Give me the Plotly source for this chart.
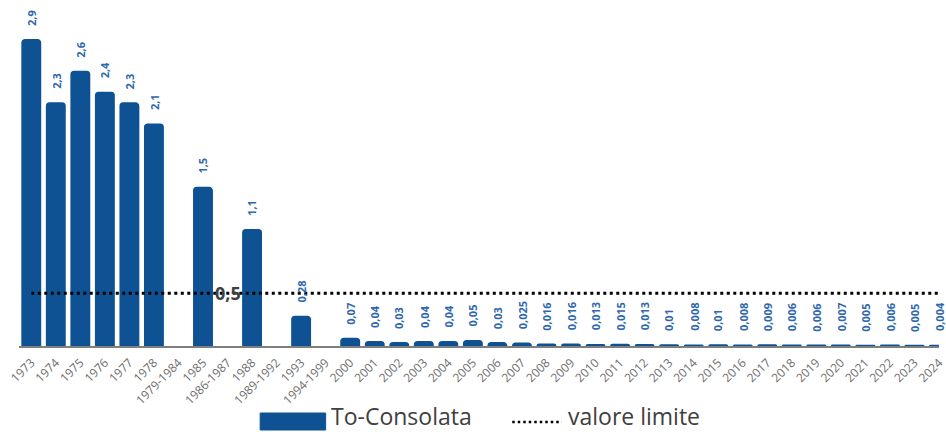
import plotly.graph_objects as go

categories = ["1973", "1974", "1975", "1976", "1977", "1978", "1979-1984", "1985",
              "1986-1987", "1988", "1989-1992", "1993", "1994-1999",
              "2000", "2001", "2002", "2003", "2004", "2005", "2006", "2007", "2008",
              "2009", "2010", "2011", "2012", "2013", "2014", "2015", "2016", "2017",
              "2018", "2019", "2020", "2021", "2022", "2023", "2024"]
values = [2.9, 2.3, 2.6, 2.4, 2.3, 2.1, None, 1.5, None, 1.1, None, 0.28, None,
          0.07, 0.04, 0.03, 0.04, 0.04, 0.05, 0.03, 0.025, 0.016, 0.016, 0.013,
          0.015, 0.013, 0.01, 0.008, 0.01, 0.008, 0.009, 0.006, 0.006, 0.007,
          0.005, 0.006, 0.005, 0.004]
limit_value = 0.5
limit_label_category = "1986-1987"
series_names = ["To-Consolata", "valore limite"]

BAR = "#0E5294"
LABEL = "#2F67AC"


def fmt(v):
    return ("%g" % v).replace(".", ",")


fig = go.Figure()
fig.add_trace(go.Bar(
    x=categories, y=values, name=series_names[0],
    marker=dict(color=BAR, line=dict(color=BAR, width=1.5)),
    showlegend=False, hoverinfo="x+y",
))
fig.add_trace(go.Scatter(
    x=categories, y=[limit_value] * len(categories), name=series_names[1],
    mode="lines", line=dict(color="#000000", width=3, dash="3px,3.5px"),
    showlegend=False,
))

annotations = []
for i, v in enumerate(values):
    if v is None:
        continue
    annotations.append(dict(
        x=i, y=v, xref="x", yref="y", text=fmt(v), showarrow=False,
        textangle=-90, yanchor="bottom", xanchor="center", yshift=12,
        font=dict(family="Open Sans", size=11, color=LABEL, weight="bold"),
    ))
annotations.append(dict(
    x=categories.index(limit_label_category), y=limit_value, xref="x", yref="y",
    text=fmt(limit_value), showarrow=False, yanchor="middle", xanchor="center",
    font=dict(family="Open Sans", size=18, color="#404040", weight="bold"),
))

# manual legend (paper coords computed from pixel layout)
L, T, W, H = 19, 8, 927, 338


def px(x):
    return (x - L) / W


def py(y):
    return (T + H - y) / H


shapes = [
    dict(type="rect", xref="paper", yref="paper", x0=px(262), x1=px(328),
         y0=py(430), y1=py(413), fillcolor=BAR, line=dict(color=BAR, width=1)),
    dict(type="line", xref="paper", yref="paper", x0=px(516), x1=px(566),
         y0=py(422), y1=py(422), line=dict(color="#000000", width=2.5, dash="2.5px,3px")),
]
annotations.append(dict(
    x=px(331), y=py(416), xref="paper", yref="paper", text=series_names[0],
    showarrow=False, xanchor="left", yanchor="middle",
    font=dict(family="Open Sans", size=23, color="#404040"),
))
annotations.append(dict(
    x=px(570), y=py(416), xref="paper", yref="paper", text=series_names[1],
    showarrow=False, xanchor="left", yanchor="middle",
    font=dict(family="Open Sans", size=23, color="#404040"),
))

fig.update_layout(
    width=946, height=432,
    margin=dict(l=L, r=0, t=T, b=86),
    plot_bgcolor="white", paper_bgcolor="white",
    bargap=0.25, barcornerradius=3,
    annotations=annotations, shapes=shapes,
    xaxis=dict(type="category", range=[-0.5, 37.0], tickangle=-45,
               showline=True, linecolor="#7F7F7F", linewidth=2,
               showgrid=False, ticks="", ticklabelstandoff=3,
               tickfont=dict(family="Open Sans", size=12, color="#6E6E6E")),
    yaxis=dict(range=[0, 3.2], visible=False, showgrid=False, zeroline=False),
)

fig.write_html("out.html")
